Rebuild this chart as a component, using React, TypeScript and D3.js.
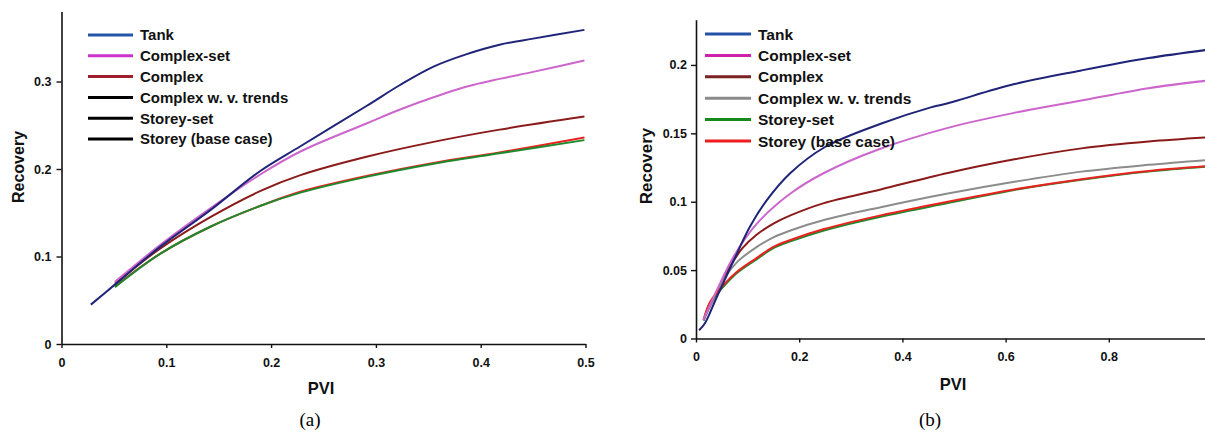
import React, { useEffect, useRef } from 'react';
import * as d3 from 'd3';

type Pt = [number, number];

// panel (a) curves, [PVI, Recovery]
const aTank: Pt[] = [[0.028, 0.045], [0.05, 0.067], [0.094, 0.111], [0.142, 0.153], [0.19, 0.198], [0.228, 0.226], [0.291, 0.272], [0.323, 0.296], [0.355, 0.317], [0.386, 0.331], [0.418, 0.342], [0.45, 0.349], [0.499, 0.359]];
const aComplexSet: Pt[] = [[0.051, 0.071], [0.094, 0.113], [0.142, 0.155], [0.19, 0.194], [0.228, 0.22], [0.291, 0.252], [0.323, 0.268], [0.355, 0.282], [0.386, 0.294], [0.418, 0.303], [0.45, 0.311], [0.499, 0.324]];
const aComplex: Pt[] = [[0.051, 0.069], [0.094, 0.109], [0.142, 0.145], [0.19, 0.175], [0.228, 0.193], [0.291, 0.214], [0.355, 0.231], [0.418, 0.245], [0.499, 0.26]];
const aStoreySet: Pt[] = [[0.051, 0.065], [0.094, 0.103], [0.142, 0.134], [0.19, 0.158], [0.228, 0.173], [0.291, 0.191], [0.355, 0.206], [0.418, 0.218], [0.499, 0.233]];
const aStoreyBase: Pt[] = [[0.051, 0.066], [0.094, 0.103], [0.142, 0.134], [0.19, 0.158], [0.228, 0.174], [0.291, 0.192], [0.355, 0.207], [0.418, 0.219], [0.499, 0.236]];

// panel (b) curves
const bTank: Pt[] = [[0.006, 0.006], [0.017, 0.011], [0.04, 0.03], [0.073, 0.057], [0.105, 0.082], [0.137, 0.101], [0.183, 0.121], [0.25, 0.14], [0.358, 0.157], [0.455, 0.169], [0.488, 0.172], [0.617, 0.186], [0.747, 0.196], [0.877, 0.205], [0.99, 0.211]];
const bComplexSet: Pt[] = [[0.014, 0.0135], [0.04, 0.035], [0.073, 0.06], [0.118, 0.084], [0.183, 0.106], [0.248, 0.121], [0.352, 0.138], [0.488, 0.154], [0.617, 0.165], [0.747, 0.174], [0.877, 0.183], [0.99, 0.1885]];
const bComplex: Pt[] = [[0.015, 0.014], [0.04, 0.034], [0.065, 0.052], [0.09, 0.066], [0.118, 0.076], [0.15, 0.084], [0.183, 0.09], [0.248, 0.099], [0.358, 0.109], [0.488, 0.121], [0.617, 0.131], [0.747, 0.139], [0.877, 0.144], [0.99, 0.147]];
const bTrends: Pt[] = [[0.015, 0.014], [0.04, 0.033], [0.053, 0.043], [0.08, 0.056], [0.118, 0.067], [0.15, 0.074], [0.183, 0.079], [0.248, 0.0866], [0.358, 0.096], [0.488, 0.106], [0.617, 0.1146], [0.747, 0.122], [0.877, 0.127], [0.99, 0.1305]];
const bStoreySet: Pt[] = [[0.015, 0.013], [0.027, 0.0257], [0.053, 0.0378], [0.08, 0.048], [0.118, 0.058], [0.15, 0.066], [0.183, 0.071], [0.248, 0.079], [0.358, 0.089], [0.488, 0.099], [0.617, 0.1086], [0.747, 0.116], [0.877, 0.122], [0.99, 0.1256]];
const bStoreyBase: Pt[] = [[0.015, 0.014], [0.027, 0.0265], [0.053, 0.039], [0.08, 0.049], [0.118, 0.059], [0.15, 0.067], [0.183, 0.072], [0.248, 0.08], [0.358, 0.09], [0.488, 0.1], [0.617, 0.109], [0.747, 0.1165], [0.877, 0.1225], [0.99, 0.126]];

const legendNames = ['Tank', 'Complex-set', 'Complex', 'Complex w. v. trends', 'Storey-set', 'Storey (base case)'];
const aLegendColors = ['#2456a8', '#cc33cc', '#a01e2c', '#000000', '#000000', '#000000'];
const bLegendColors = ['#2252a8', '#cc22aa', '#7a2020', '#8a8a8a', '#168a1e', '#ee1c1c'];

const aTicksX = [0, 0.1, 0.2, 0.3, 0.4, 0.5];
const aTicksY = [0, 0.1, 0.2, 0.3];
const bTicksX = [0, 0.2, 0.4, 0.6, 0.8];
const bTicksY = [0, 0.05, 0.1, 0.15, 0.2];

const C = {
  tank: '#1f2478',
  cset: '#cc66cc',
  complex: '#8b1a1a',
  trends: '#8c8c8c',
  green: '#1e8a2e',
  red: '#e8231f',
};

const sans = '"Liberation Sans", Arial, sans-serif';

interface PanelProps {
  x: d3.ScaleLinear<number, number>;
  y: d3.ScaleLinear<number, number>;
  ticksX: number[];
  ticksY: number[];
  series: { data: Pt[]; color: string }[];
  legendColors: string[];
  legend: { x0: number; x1: number; tx: number; y0: number; step: number; size: number };
  yTitle: { x: number; y: number; size: number };
  xTitle: { x: number; y: number };
  caption: { x: number; y: number; text: string };
  padY: number;
}

function Panel(p: PanelProps) {
  const gx = useRef<SVGGElement>(null);
  const gy = useRef<SVGGElement>(null);

  useEffect(() => {
    const fmt = (d: d3.NumberValue) => String(+d);
    const xa = d3.axisBottom(p.x).tickValues(p.ticksX).tickSize(4).tickSizeOuter(0).tickPadding(10).tickFormat(fmt);
    const ya = d3.axisLeft(p.y).tickValues(p.ticksY).tickSize(5).tickSizeOuter(0).tickPadding(p.padY).tickFormat(fmt);
    [d3.select(gx.current!).call(xa), d3.select(gy.current!).call(ya)].forEach(g => {
      g.attr('font-family', sans).attr('font-size', 12.5).attr('font-weight', 'bold');
      g.selectAll('path.domain').attr('stroke', '#111').attr('stroke-width', 1.6);
      g.selectAll('line').attr('stroke', '#111').attr('stroke-width', 1.4);
      g.selectAll('text').attr('fill', '#111');
    });
  }, [p]);

  const line = d3.line<Pt>().x(d => p.x(d[0])).y(d => p.y(d[1])).curve(d3.curveCatmullRom.alpha(0.5));
  const y0 = p.y(0);

  return (
    <g>
      {p.series.map((s, i) => (
        <path key={i} d={line(s.data) || ''} fill="none" stroke={s.color} strokeWidth={2} />
      ))}
      <g ref={gx} transform={`translate(0,${y0})`} />
      <g ref={gy} transform={`translate(${p.x(0)},0)`} />
      {legendNames.map((n, i) => {
        const ly = p.legend.y0 + i * p.legend.step;
        return (
          <g key={n}>
            <line x1={p.legend.x0} x2={p.legend.x1} y1={ly} y2={ly} stroke={p.legendColors[i]} strokeWidth={3} />
            <text x={p.legend.tx} y={ly} dy="0.36em" fontFamily={sans} fontWeight="bold" fontSize={p.legend.size} fill="#111">{n}</text>
          </g>
        );
      })}
      <text transform={`translate(${p.yTitle.x},${p.yTitle.y}) rotate(-90)`} textAnchor="middle" dy="0.36em"
        fontFamily={sans} fontWeight="bold" fontSize={p.yTitle.size} fill="#111">Recovery</text>
      <text x={p.xTitle.x} y={p.xTitle.y} textAnchor="middle" dy="0.36em"
        fontFamily={sans} fontWeight="bold" fontSize={16.5} fill="#111">PVI</text>
      <text x={p.caption.x} y={p.caption.y} textAnchor="middle" dy="0.33em"
        fontFamily='"Liberation Serif", "Times New Roman", serif' fontSize={19} fill="#000">{p.caption.text}</text>
    </g>
  );
}

export default function App() {
  const xA = d3.scaleLinear().domain([0, 0.5]).range([61.5, 585.5]);
  const yA = d3.scaleLinear().domain([0, 0.38]).range([344, 11.5]);
  const xB = d3.scaleLinear().domain([0, 1]).range([696, 1212]);
  const yB = d3.scaleLinear().domain([0, 0.233]).range([338.5, 19.8]);

  return (
    <svg width={1205} height={432} style={{ position: 'absolute', left: 0, top: 0, background: '#fff' }}>
      <Panel
        x={xA} y={yA} ticksX={aTicksX} ticksY={aTicksY}
        series={[
          { data: aComplex, color: C.complex },
          { data: aStoreyBase, color: C.red },
          { data: aStoreySet, color: C.green },
          { data: aComplexSet, color: C.cset },
          { data: aTank, color: C.tank },
        ]}
        legendColors={aLegendColors}
        legend={{ x0: 88, x1: 133, tx: 140, y0: 35, step: 20.8, size: 15 }}
        yTitle={{ x: 18, y: 167, size: 16 }}
        xTitle={{ x: 321, y: 388 }}
        caption={{ x: 310, y: 420, text: '(a)' }}
        padY={5}
      />
      <Panel
        x={xB} y={yB} ticksX={bTicksX} ticksY={bTicksY}
        series={[
          { data: bComplex, color: C.complex },
          { data: bTrends, color: C.trends },
          { data: bStoreySet, color: C.green },
          { data: bStoreyBase, color: C.red },
          { data: bComplexSet, color: C.cset },
          { data: bTank, color: C.tank },
        ]}
        legendColors={bLegendColors}
        legend={{ x0: 705, x1: 751, tx: 758, y0: 34, step: 21.4, size: 15.5 }}
        yTitle={{ x: 646, y: 166, size: 17 }}
        xTitle={{ x: 953, y: 384 }}
        caption={{ x: 930, y: 420, text: '(b)' }}
        padY={4}
      />
    </svg>
  );
}
